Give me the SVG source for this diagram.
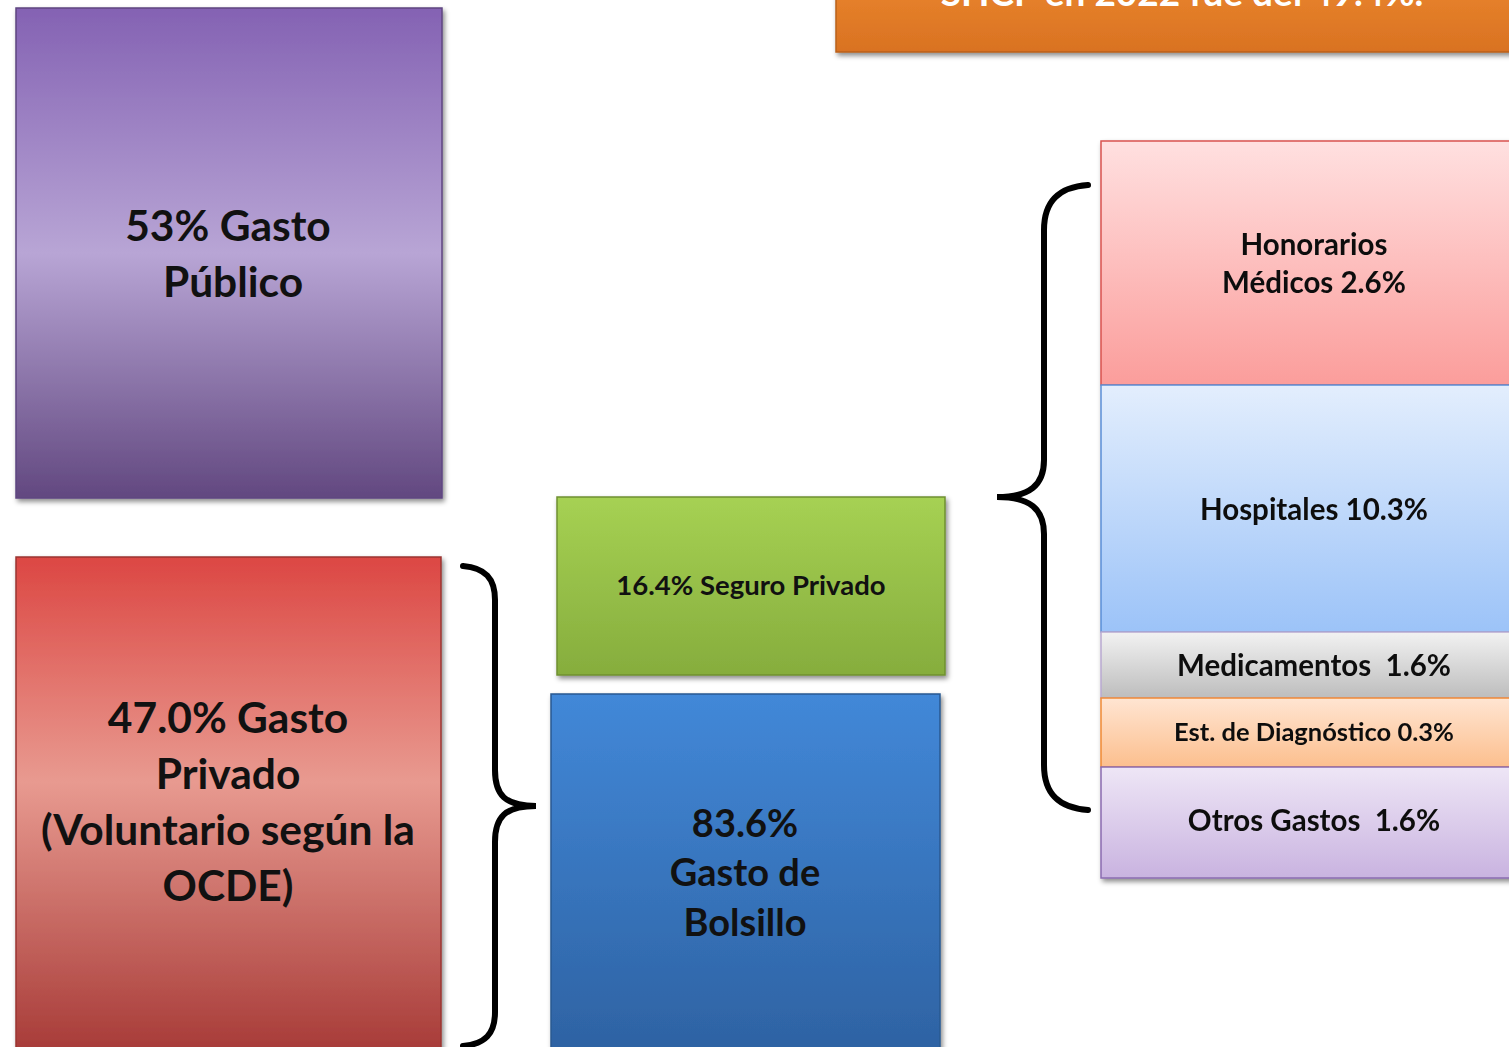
<svg xmlns="http://www.w3.org/2000/svg" width="1509" height="1047" viewBox="0 0 1509 1047">
<defs>
<style>
text{font-family:Lato,"Open Sans","Liberation Sans",sans-serif;font-weight:bold;text-anchor:middle;fill:#111;white-space:pre}
.big{font-size:42.5px}
.mid{font-size:29.5px}
.brace{fill:none;stroke:#000;stroke-width:6;stroke-linecap:round}
</style>
<filter id="sh" x="-5%" y="-5%" width="115%" height="115%"><feDropShadow dx="2" dy="3" stdDeviation="2.5" flood-color="#000" flood-opacity="0.45"/></filter>
<linearGradient id="gPur" x1="0" y1="0" x2="0" y2="1"><stop offset="0" stop-color="#8462b3"/><stop offset="0.5" stop-color="#b8a5d5"/><stop offset="1" stop-color="#624880"/></linearGradient>
<linearGradient id="gRed" x1="0" y1="0" x2="0" y2="1"><stop offset="0" stop-color="#dc4743"/><stop offset="0.45" stop-color="#e89a90"/><stop offset="1" stop-color="#a63936"/></linearGradient>
<linearGradient id="gGrn" x1="0" y1="0" x2="0" y2="1"><stop offset="0" stop-color="#a6d153"/><stop offset="1" stop-color="#86ad3d"/></linearGradient>
<linearGradient id="gBlu" x1="0" y1="0" x2="0" y2="1"><stop offset="0" stop-color="#4288d8"/><stop offset="1" stop-color="#2d61a1"/></linearGradient>
<linearGradient id="gOra" x1="0" y1="0" x2="0" y2="1"><stop offset="0" stop-color="#ee8a30"/><stop offset="1" stop-color="#d97222"/></linearGradient>
<linearGradient id="gPink" x1="0" y1="0" x2="0" y2="1"><stop offset="0" stop-color="#ffe0e0"/><stop offset="1" stop-color="#fb9d9b"/></linearGradient>
<linearGradient id="gLBlu" x1="0" y1="0" x2="0" y2="1"><stop offset="0" stop-color="#e3eefd"/><stop offset="1" stop-color="#9cc3f8"/></linearGradient>
<linearGradient id="gGray" x1="0" y1="0" x2="0" y2="1"><stop offset="0" stop-color="#f2f2f2"/><stop offset="1" stop-color="#bdbdbd"/></linearGradient>
<linearGradient id="gPeach" x1="0" y1="0" x2="0" y2="1"><stop offset="0" stop-color="#ffe5d2"/><stop offset="1" stop-color="#fcbf8e"/></linearGradient>
<linearGradient id="gLav" x1="0" y1="0" x2="0" y2="1"><stop offset="0" stop-color="#eee6f6"/><stop offset="1" stop-color="#c9b3e0"/></linearGradient>
</defs>
<rect width="1509" height="1047" fill="#fff"/>

<g id="titulo">
<rect x="836" y="-40" width="690" height="92" fill="url(#gOra)" stroke="#b9611b" stroke-width="1.5" filter="url(#sh)"/>
<text x="1182" y="6" style="fill:#fff;font-size:37px">SHCP en 2022 fue del 49.4%.</text>
</g>

<g id="gasto-publico">
<rect x="16" y="8" width="426" height="490" fill="url(#gPur)" stroke="#5e4680" stroke-width="1.5" filter="url(#sh)"/>
<text x="228" y="241" class="big">53% Gasto</text>
<text x="233" y="297" class="big">Público</text>
</g>

<g id="gasto-privado">
<rect x="16" y="557" width="425" height="500" fill="url(#gRed)" stroke="#9a3532" stroke-width="1.5" filter="url(#sh)"/>
<text x="228" y="733" class="big">47.0% Gasto</text>
<text x="228" y="789" class="big">Privado</text>
<text x="228" y="845" class="big">(Voluntario según la</text>
<text x="228" y="901" class="big">OCDE)</text>
</g>

<g id="seguro-privado">
<rect x="557" y="497" width="388" height="178" fill="url(#gGrn)" stroke="#6f9030" stroke-width="1.5" filter="url(#sh)"/>
<text x="751" y="595" style="font-size:27.5px">16.4% Seguro Privado</text>
</g>

<g id="gasto-bolsillo">
<rect x="551" y="694" width="389" height="370" fill="url(#gBlu)" stroke="#2a5891" stroke-width="1.5" filter="url(#sh)"/>
<text x="745" y="837" style="font-size:38px">83.6%</text>
<text x="745" y="886" style="font-size:38px">Gasto de</text>
<text x="745" y="936" style="font-size:38px">Bolsillo</text>
</g>

<g id="desglose" filter="url(#sh)">
<g id="honorarios">
<rect x="1101" y="141" width="420" height="244" fill="url(#gPink)" stroke="#d9534f" stroke-width="1.5"/>
<text x="1314" y="255" class="mid">Honorarios</text>
<text x="1314" y="293" class="mid">Médicos 2.6%</text>
</g>
<g id="hospitales">
<rect x="1101" y="385" width="420" height="247" fill="url(#gLBlu)" stroke="#5b8fd6" stroke-width="1.5"/>
<text x="1314" y="520" class="mid">Hospitales 10.3%</text>
</g>
<g id="medicamentos">
<rect x="1101" y="632" width="420" height="66" fill="url(#gGray)" stroke="#b9a9d1" stroke-width="1.5"/>
<text x="1314" y="676" class="mid">Medicamentos  1.6%</text>
</g>
<g id="diagnostico">
<rect x="1101" y="698" width="420" height="69" fill="url(#gPeach)" stroke="#f08a36" stroke-width="1.5"/>
<text x="1314" y="741" style="font-size:25.5px">Est. de Diagnóstico 0.3%</text>
</g>
<g id="otros">
<rect x="1101" y="767" width="420" height="111" fill="url(#gLav)" stroke="#8a6bb0" stroke-width="1.5"/>
<text x="1314" y="831" class="mid">Otros Gastos  1.6%</text>
</g>
</g>

<g id="conectores">
<path class="brace" d="M463,566 C485,568 495,578 495,600 L495,770 C495,795 505,806 536,806 C505,806 495,817 495,842 L495,1012 C495,1034 485,1044 463,1046"/>
<path class="brace" d="M1088,185 C1060,187 1044,200 1044,230 L1044,460 C1044,485 1030,497 997,497 C1030,497 1044,509 1044,534 L1044,765 C1044,795 1060,808 1088,810"/>
</g>
</svg>
